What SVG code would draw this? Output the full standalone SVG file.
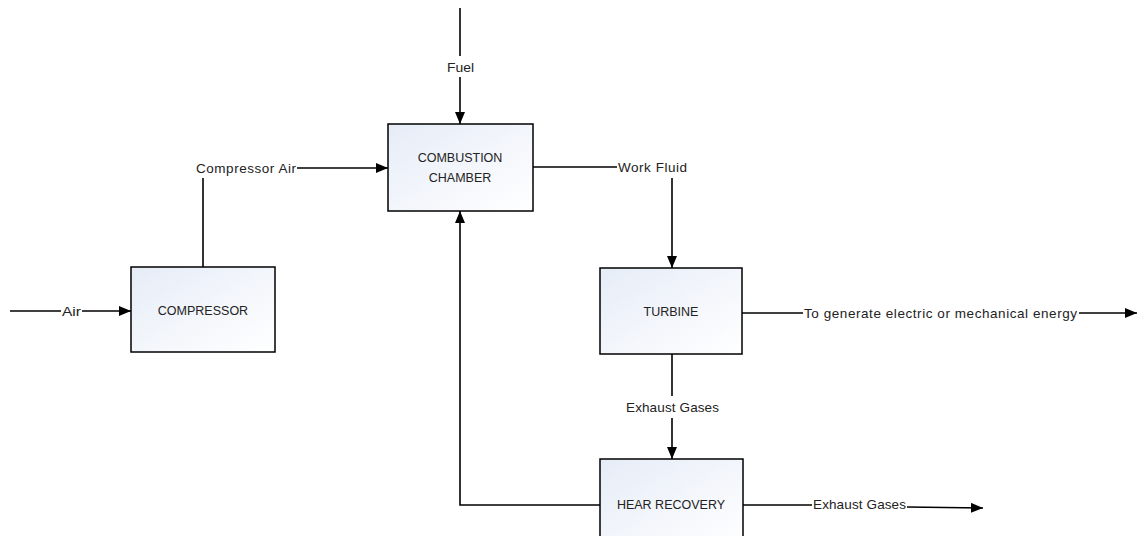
<svg xmlns="http://www.w3.org/2000/svg" width="1137" height="536" viewBox="0 0 1137 536">
<style>
.box{stroke:#000;stroke-width:1.5;fill:url(#g)}
.ln{stroke:#000;stroke-width:1.6;fill:none}
.t{font-family:"Liberation Sans",Arial,sans-serif;font-size:12.5px;fill:#222;text-anchor:middle;dominant-baseline:central}
.l{font-family:"Liberation Sans",Arial,sans-serif;font-size:13.5px;fill:#222;text-anchor:start;dominant-baseline:central}
</style>
<defs>
<linearGradient id="g" x1="0" y1="0" x2="1" y2="1">
<stop offset="0" stop-color="#e6ecf7"/>
<stop offset="1" stop-color="#ffffff"/>
</linearGradient>
<marker id="a" viewBox="0 0 12 10" refX="12" refY="5" markerWidth="12" markerHeight="10" markerUnits="userSpaceOnUse" orient="auto">
<path d="M0,0 L12,5 L0,10 Z" fill="#000"/>
</marker>
</defs>
<g id="connectors">
<line class="ln" x1="460" y1="8" x2="460" y2="56"/>
<line class="ln" x1="460" y1="77" x2="460" y2="124" marker-end="url(#a)"/>
<line class="ln" x1="10" y1="311" x2="61" y2="311"/>
<line class="ln" x1="82" y1="311" x2="131" y2="311" marker-end="url(#a)"/>
<line class="ln" x1="203" y1="267" x2="203" y2="178"/>
<line class="ln" x1="297" y1="168" x2="388" y2="168" marker-end="url(#a)"/>
<line class="ln" x1="533" y1="167" x2="617" y2="167"/>
<line class="ln" x1="672" y1="178" x2="672" y2="268" marker-end="url(#a)"/>
<line class="ln" x1="742" y1="313" x2="803" y2="313"/>
<line class="ln" x1="1079" y1="313" x2="1137" y2="313" marker-end="url(#a)"/>
<line class="ln" x1="672" y1="354" x2="672" y2="396"/>
<line class="ln" x1="672" y1="418" x2="672" y2="459" marker-end="url(#a)"/>
<polyline class="ln" points="600,505 460,505 460,211" marker-end="url(#a)"/>
<line class="ln" x1="743" y1="505" x2="812" y2="505"/>
<line class="ln" x1="907" y1="507" x2="983" y2="508" marker-end="url(#a)"/>
</g>
<g id="labels">
<text class="l" x="447" y="67" textLength="27" lengthAdjust="spacingAndGlyphs">Fuel</text>
<text class="l" x="62" y="311" textLength="19" lengthAdjust="spacingAndGlyphs">Air</text>
<text class="l" x="196" y="168" textLength="100" lengthAdjust="spacing">Compressor Air</text>
<text class="l" x="618" y="167" textLength="69" lengthAdjust="spacing">Work Fluid</text>
<text class="l" x="804" y="313" textLength="273" lengthAdjust="spacing">To generate electric or mechanical energy</text>
<text class="l" x="626" y="407" textLength="93" lengthAdjust="spacing">Exhaust Gases</text>
<text class="l" x="813" y="504" textLength="93" lengthAdjust="spacing">Exhaust Gases</text>
</g>
<g id="combustion">
<rect class="box" x="388" y="124" width="145" height="87"/>
<text class="t" x="460" y="158">COMBUSTION</text>
<text class="t" x="460" y="178">CHAMBER</text>
</g>
<g id="compressor">
<rect class="box" x="131" y="267" width="144" height="85"/>
<text class="t" x="203" y="311">COMPRESSOR</text>
</g>
<g id="turbine">
<rect class="box" x="600" y="268" width="142" height="86"/>
<text class="t" x="671" y="312">TURBINE</text>
</g>
<g id="heat-recovery">
<rect class="box" x="600" y="459" width="143" height="90"/>
<text class="t" x="671" y="505">HEAR RECOVERY</text>
</g>
</svg>
